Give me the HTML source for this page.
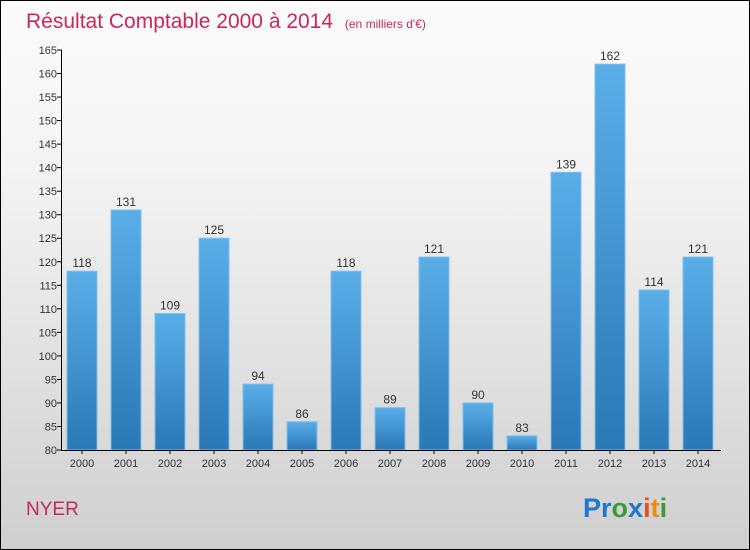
<!DOCTYPE html>
<html><head><meta charset="utf-8"><style>
body{margin:0}
#c{width:748px;height:548px;border:1px solid #000;background:linear-gradient(#fbfbfb,#f4f4f4 30%,#cfcfcf);position:relative;overflow:hidden;font-family:"Liberation Sans",sans-serif}
</style></head><body>
<div id="c">
<svg width="748" height="548">
<defs><linearGradient id="bg" x1="0" x2="0" y1="0" y2="1"><stop offset="0" stop-color="#5aaee8"/><stop offset="1" stop-color="#2a78b6"/></linearGradient></defs>
<text x="25" y="27" font-size="21" fill="#c8285a">Résultat Comptable 2000 à 2014 <tspan font-size="12" dx="6">(en milliers d'€)</tspan></text>
<g id="plot"></g>
<text x="25" y="514" font-size="19" fill="#c8285a">NYER</text>
<text x="582" y="516" font-size="27" font-weight="bold"><tspan fill="#1e78d0">Pr</tspan><tspan fill="#3a9a3a">o</tspan><tspan fill="#1e78d0">x</tspan><tspan fill="#e8501e">i</tspan><tspan fill="#f08a10">t</tspan><tspan fill="#3a9a3a">i</tspan></text>
</svg></div>
<script>
const years=["2000","2001","2002","2003","2004","2005","2006","2007","2008","2009","2010","2011","2012","2013","2014"];
const values=[118,131,109,125,94,86,118,89,121,90,83,139,162,114,121];
const yTicks=[80,85,90,95,100,105,110,115,120,125,130,135,140,145,150,155,160,165];
const NS="http://www.w3.org/2000/svg";
const g=document.getElementById('plot');
const y=v=>449-(v-80)*400/85;
const x=i=>81+i*44;
function mk(t,a){const e=document.createElementNS(NS,t);for(const k in a)e.setAttribute(k,a[k]);g.appendChild(e);return e;}
yTicks.forEach(t=>{
 const l=mk('line',{x1:56,x2:61,y1:y(t),y2:y(t),stroke:'#000'});
 
 
 const tx=mk('text',{x:56,y:y(t)+4,'font-size':11,'text-anchor':'end',fill:'#333'});tx.textContent=t;
 
 
});
values.forEach((v,i)=>{
 const r=mk('rect',{x:x(i)-15,y:y(v),width:30,height:y(80)-y(v),fill:'url(#bg)',stroke:'#7cc0ee','stroke-width':1});
 
 
 const t=mk('text',{x:x(i),y:y(v)-4,'font-size':12,'text-anchor':'middle',fill:'#333'});t.textContent=v;
 
 
 const xl=mk('text',{x:x(i),y:466,'font-size':11,'text-anchor':'middle',fill:'#333'});xl.textContent=years[i];
 
 
 const tk=mk('line',{x1:x(i),x2:x(i),y1:449,y2:453,stroke:'#000'});
 
 
});
const ya=mk('line',{x1:60.5,x2:60.5,y1:49,y2:449,stroke:'#000'});


const xa=mk('line',{x1:60,x2:720,y1:449.5,y2:449.5,stroke:'#000'});


</script>
</body></html>
